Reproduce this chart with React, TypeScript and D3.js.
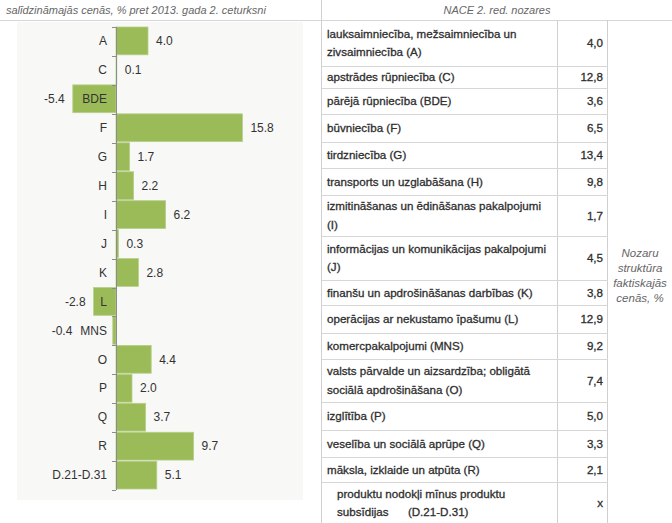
import { useMemo } from 'react'
import * as d3 from 'd3'

// growth vs 2013 Q2, comparable prices
const categories = ['A', 'C', 'BDE', 'F', 'G', 'H', 'I', 'J', 'K', 'L', 'MNS', 'O', 'P', 'Q', 'R', 'D.21-D.31']
const growth = [4.0, 0.1, -5.4, 15.8, 1.7, 2.2, 6.2, 0.3, 2.8, -2.8, -0.4, 4.4, 2.0, 3.7, 9.7, 5.1]

// NACE sector names (line breaks as in the table) and structure shares
const sectorNames = [
  ['lauksaimniecība, mežsaimniecība un', 'zivsaimniecība (A)'],
  ['apstrādes rūpniecība (C)'],
  ['pārējā rūpniecība (BDE)'],
  ['būvniecība (F)'],
  ['tirdzniecība (G)'],
  ['transports un uzglabāšana (H)'],
  ['izmitināšanas un ēdināšanas pakalpojumi', '(I)'],
  ['informācijas un komunikācijas pakalpojumi', '(J)'],
  ['finanšu un apdrošināšanas darbības (K)'],
  ['operācijas ar nekustamo īpašumu (L)'],
  ['komercpakalpojumi (MNS)'],
  ['valsts pārvalde un aizsardzība; obligātā', 'sociālā apdrošināšana (O)'],
  ['izglītība (P)'],
  ['veselība un sociālā aprūpe (Q)'],
  ['māksla, izklaide un atpūta (R)'],
  ['produktu nodokļi mīnus produktu', 'subsīdijas      (D.21-D.31)'],
]
const structure = ['4,0', '12,8', '3,6', '6,5', '13,4', '9,8', '1,7', '4,5', '3,8', '12,9', '9,2', '7,4', '5,0', '3,3', '2,1', 'x']

const leftTitle = 'salīdzināmajās cenās, % pret 2013. gada 2. ceturksni'
const rightTitle = 'NACE 2. red. nozares'
const sideNote = ['Nozaru', 'struktūra', 'faktiskajās', 'cenās, %']

// table row boundaries (rows have different heights)
const rowEdges = [20, 66, 88, 114, 142, 168, 195, 236, 280, 305, 333, 359, 402, 430, 457, 482, 530]

const W = 672
const H = 523
const FONT = 'Arial, "Liberation Sans", sans-serif'
const GREEN = '#9bbb59'
const LABEL_PX = 12

const fmt = d3
  .formatLocale({ decimal: '.', thousands: ',', grouping: [3], currency: ['', ''], minus: '-' })
  .format('.1f')

// rough text width for placing negative value labels clear of the category label
let ctx: CanvasRenderingContext2D | null = null
function textWidth(t: string) {
  if (!ctx) {
    ctx = document.createElement('canvas').getContext('2d')
    if (ctx) ctx.font = `${LABEL_PX}px ${FONT}`
  }
  return ctx ? ctx.measureText(t).width : t.length * 7
}

export default function App() {
  const y = useMemo(
    () => d3.scaleBand<string>().domain(categories).range([27, 489]).paddingInner(0.04),
    []
  )
  const x = useMemo(() => d3.scaleLinear().domain([-6, 16]).range([68, 244]), [])
  const x0 = x(0)
  const catRight = x0 - 9

  return (
    <div style={{ position: 'fixed', left: 0, top: 0 }}>
      <svg width={W} height={H} style={{ display: 'block', background: '#fff' }} fontFamily={FONT}>
        {/* header */}
        <text x={6} y={14} fontSize={11} fontStyle="italic" fill="#666">{leftTitle}</text>
        <text x={(322 + W) / 2} y={14} fontSize={11} fontStyle="italic" fill="#666" textAnchor="middle">{rightTitle}</text>
        <line x1={0} x2={W} y1={20.5} y2={20.5} stroke="#d6d6d6" />
        <line x1={321.5} x2={321.5} y1={0} y2={H} stroke="#d0d0d0" />

        {/* chart panel */}
        <rect x={17} y={22} width={286} height={478} fill="#f8f8f7" />

        {/* bars */}
        {categories.map((c, i) => {
          const v = growth[i]
          const bx = Math.min(x(v), x0)
          const bw = Math.abs(x(v) - x0)
          const cy = y(c)! + y.bandwidth() / 2
          const labelLeft = catRight - textWidth(c)
          const valX = v >= 0 ? x(v) + 8 : Math.min(x(v), labelLeft) - 8
          return (
            <g key={c}>
              <rect x={bx} y={y(c)} width={bw} height={y.bandwidth()} fill={GREEN} stroke="#b7cf8a" strokeWidth={0.8} />
              <text x={catRight} y={cy} dy="0.35em" textAnchor="end" fontSize={LABEL_PX} fill="#333">{c}</text>
              <text
                x={valX}
                y={cy}
                dy="0.35em"
                textAnchor={v >= 0 ? 'start' : 'end'}
                fontSize={LABEL_PX}
                fill="#333"
              >
                {fmt(v)}
              </text>
            </g>
          )
        })}

        {/* axis */}
        <line x1={x0 + 0.5} x2={x0 + 0.5} y1={27} y2={490} stroke="#8c8c8c" />
        {d3.range(categories.length + 1).map((i) => {
          const ty = Math.round(27 + i * y.step()) + 0.5
          return <line key={i} x1={x0 - 4} x2={x0} y1={ty} y2={ty} stroke="#8c8c8c" />
        })}

        {/* table */}
        <line x1={557.5} x2={557.5} y1={20} y2={H} stroke="#d0d0d0" />
        <line x1={607.5} x2={607.5} y1={20} y2={H} stroke="#d0d0d0" />
        {rowEdges.slice(1, -1).map((ry) => (
          <line key={ry} x1={322} x2={608} y1={ry + 0.5} y2={ry + 0.5} stroke="#d6d6d6" />
        ))}
        {sectorNames.map((lines, i) => {
          const cy = (rowEdges[i] + rowEdges[i + 1]) / 2
          const center = i === sectorNames.length - 1 ? 503 : cy
          const tx = i === sectorNames.length - 1 ? 337 : 327
          return (
            <g key={i} fill="#2e2e2e" stroke="#2e2e2e" strokeWidth={0.3} fontSize={11.6}>
              {lines.map((t, j) => (
                <text
                  key={j}
                  x={tx}
                  y={center + (j - (lines.length - 1) / 2) * 18.5}
                  dy="0.35em"
                  style={{ whiteSpace: 'pre' }}
                >
                  {t}
                </text>
              ))}
              <text x={603} y={center} dy="0.35em" textAnchor="end">{structure[i]}</text>
            </g>
          )
        })}
        {sideNote.map((t, j) => (
          <text key={t} x={640} y={253 + j * 15} dy="0.35em" textAnchor="middle" fontSize={11.5} fontStyle="italic" fill="#666">{t}</text>
        ))}
      </svg>
    </div>
  )
}
